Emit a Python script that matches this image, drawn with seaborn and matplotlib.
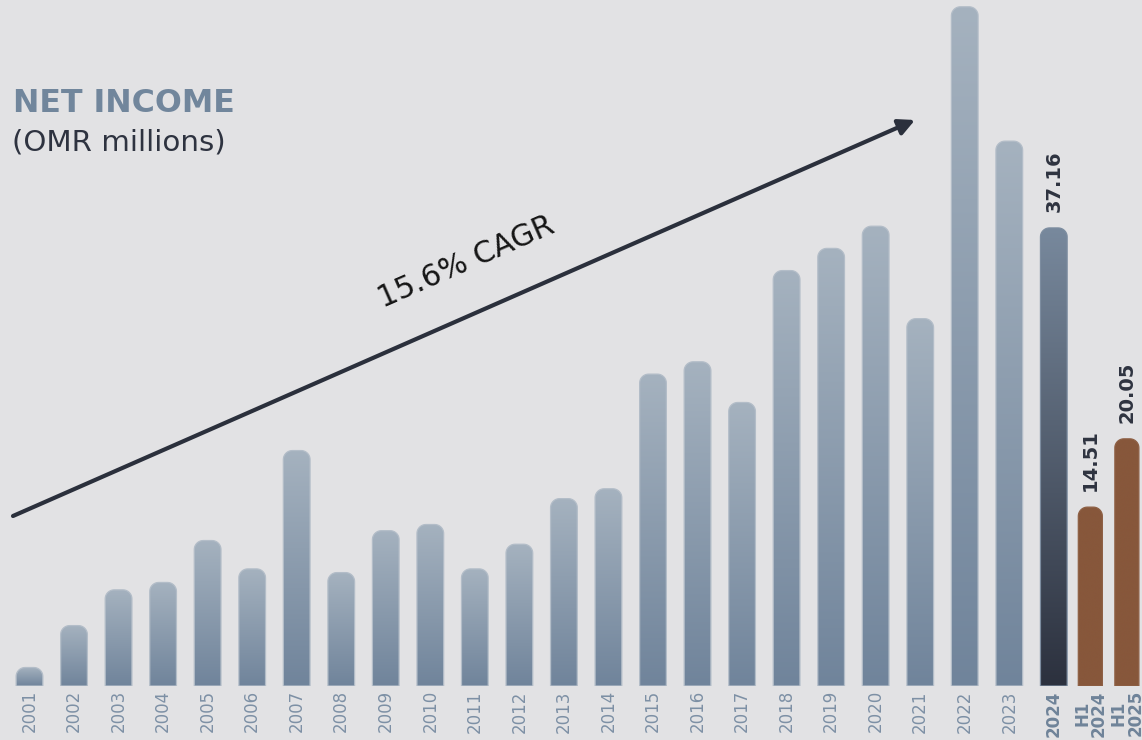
import numpy as np
import pandas as pd
import matplotlib
matplotlib.use("Agg")
import matplotlib.pyplot as plt
import seaborn as sns
from matplotlib.path import Path
from matplotlib.patches import PathPatch
from matplotlib.colors import LinearSegmentedColormap

# Net income, OMR millions
periods = [str(y) for y in range(2001, 2025)] + ["H1\n2024", "H1\n2025"]
net_income = [1.5, 4.9, 7.8, 8.4, 11.8, 9.5, 19.1, 9.2, 12.6, 13.1, 9.5, 11.5,
              15.2, 16.0, 25.3, 26.3, 23.0, 33.7, 35.5, 37.3, 29.8, 55.1, 44.2,
              37.16, 14.51, 20.05]
kind = ["annual"] * 23 + ["latest", "half", "half"]
labelled = [False] * 23 + [True, True, True]
cagr_text = "15.6% CAGR"

# x positions: yearly bars one unit apart, half-year bars packed tighter
pos = np.arange(len(periods), dtype=float)
pos[24:] = 23 + 0.82 * np.arange(1, 3)

df = pd.DataFrame({"pos": pos, "value": net_income, "kind": kind})

BG = "#e2e2e4"
W_PX, H_PX = 1142, 740
fig = plt.figure(figsize=(W_PX / 100, H_PX / 100), dpi=100)
fig.patch.set_facecolor(BG)
ax_bottom_px = 54
ax = fig.add_axes([0, ax_bottom_px / H_PX, 1, 1 - ax_bottom_px / H_PX])
ax.set_facecolor(BG)

XLIM = (-0.662, 24.98)
YLIM = (0, 55.65)
px_x = W_PX / (XLIM[1] - XLIM[0])
px_y = (H_PX - ax_bottom_px) / (YLIM[1] - YLIM[0])

sns.barplot(data=df, x="pos", y="value", native_scale=True, ax=ax,
            color="#a0adbb", width=0.6)

cmaps = {
    "annual": LinearSegmentedColormap.from_list("annual", ["#70849b", "#a5b2bf"]),
    "latest": LinearSegmentedColormap.from_list("latest", ["#2c313e", "#78899d"]),
    "half": LinearSegmentedColormap.from_list("half", ["#87573b", "#87573b"]),
}
edges = {"annual": "#b3bdc8", "latest": "#7d8da0", "half": "#8e6045"}
widths = {"annual": 0.6, "latest": 0.6, "half": 0.54}

grad = np.linspace(0, 1, 256).reshape(-1, 1)
radius_px = 9.0

for patch in list(ax.patches):
    cx = patch.get_x() + patch.get_width() / 2
    h = patch.get_height()
    i = int(np.argmin(np.abs(pos - cx)))
    k = kind[i]
    patch.set_visible(False)
    w = widths[k]
    x0, x1 = cx - w / 2, cx + w / 2
    rx = min(radius_px / px_x, w / 2)
    ry = min(radius_px / px_y, h)
    t = np.linspace(np.pi, np.pi / 2, 12)
    left_arc = np.column_stack([x0 + rx + rx * np.cos(t), h - ry + ry * np.sin(t)])
    t2 = np.linspace(np.pi / 2, 0, 12)
    right_arc = np.column_stack([x1 - rx + rx * np.cos(t2), h - ry + ry * np.sin(t2)])
    verts = np.vstack([[x0, 0], left_arc, right_arc, [x1, 0], [x0, 0]])
    codes = [Path.MOVETO] + [Path.LINETO] * (len(verts) - 2) + [Path.CLOSEPOLY]
    shape = Path(verts, codes)
    clip = PathPatch(shape, facecolor="none", edgecolor="none", transform=ax.transData)
    ax.add_patch(clip)
    im = ax.imshow(grad, extent=[x0, x1, 0, h], origin="lower", aspect="auto",
                   cmap=cmaps[k], zorder=2, interpolation="bicubic")
    im.set_clip_path(clip)
    ax.add_patch(PathPatch(shape, facecolor="none", edgecolor=edges[k], lw=0.9,
                           zorder=3, transform=ax.transData))
    if labelled[i]:
        ax.text(cx, h + 16 / px_y, f"{net_income[i]:.2f}", rotation=90,
                ha="center", va="bottom", fontsize=14, fontweight="bold",
                color="#2e3340", zorder=4)

ax.set_xlim(*XLIM)
ax.set_ylim(*YLIM)
for s in ax.spines.values():
    s.set_visible(False)
ax.set_yticks([])
ax.set_xticks(pos)
ax.set_xticklabels(periods, rotation=90, va="top", ha="center", fontsize=12,
                   color="#7d90a5", linespacing=0.9)
for i, lab in enumerate(ax.get_xticklabels()):
    if kind[i] != "annual":
        lab.set_fontweight("bold")
        lab.set_color("#6f8399")
ax.tick_params(axis="x", length=0, pad=3)
ax.set_xlabel("")
ax.set_ylabel("")

# Growth arrow and CAGR note
ax.annotate("", xy=(915 / W_PX, (686 - 120) / 686), xytext=(13 / W_PX, (686 - 516) / 686),
            xycoords="axes fraction", textcoords="axes fraction",
            arrowprops=dict(arrowstyle="-|>", color="#2b303c", lw=3,
                            mutation_scale=24, shrinkA=0, shrinkB=0), zorder=5)
ax.text(466 / W_PX, (686 - 262) / 686, cagr_text, transform=ax.transAxes,
        rotation=23.7, rotation_mode="anchor", ha="center", va="center",
        fontsize=21.5, color="#151515", zorder=5)

fig.text(13 / W_PX, 1 - 103 / H_PX, "NET INCOME", fontsize=22.8, fontweight="bold",
         color="#71869c", ha="left", va="center")
fig.text(12 / W_PX, 1 - 142 / H_PX, "(OMR millions)", fontsize=21.2,
         color="#2e3340", ha="left", va="center")

fig.savefig("out.png", dpi=100, facecolor=BG)
